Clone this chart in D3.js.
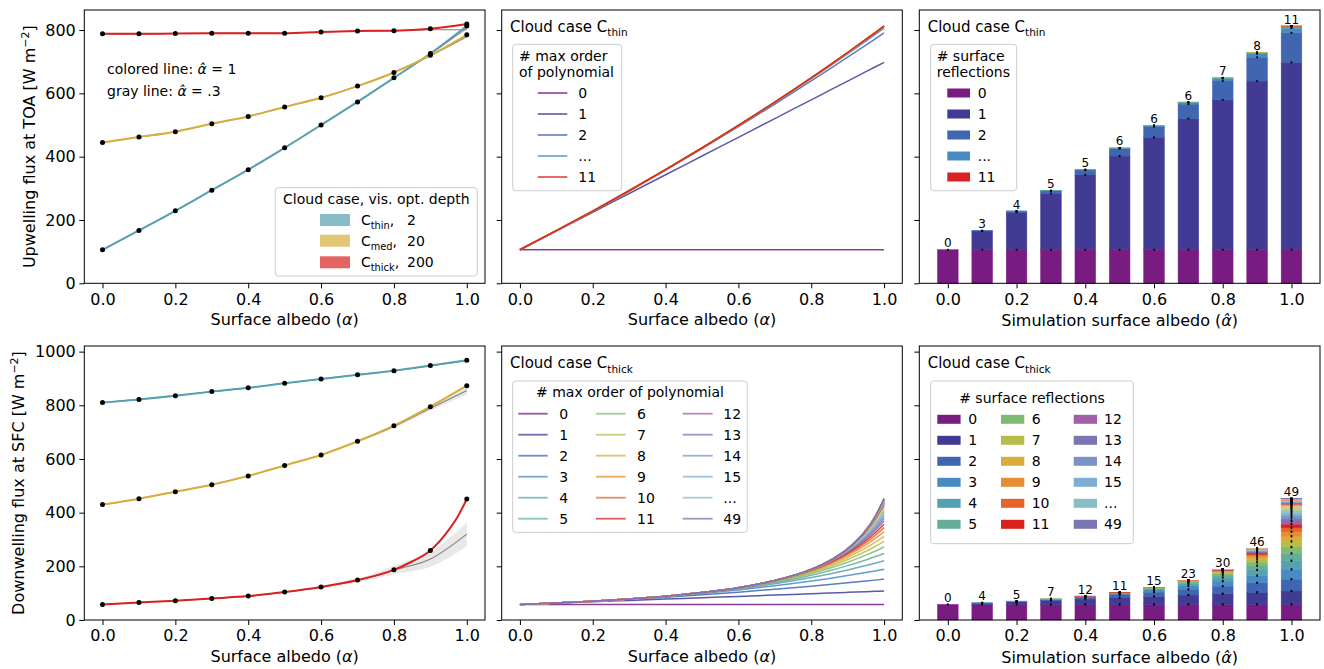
<!DOCTYPE html>
<html><head><meta charset="utf-8">
<script src="https://cdn.jsdelivr.net/npm/d3@7"></script>
<style>body{margin:0;background:#fff} svg{font-family:"DejaVu Sans",sans-serif}</style>
</head><body><svg id="c" width="1324" height="669"></svg>
<script>
// ---------------- DATA ----------------
const albedo = [0, 0.1, 0.2, 0.3, 0.4, 0.5, 0.6, 0.7, 0.8, 0.9, 1.0];
const xTicks = [0, 0.2, 0.4, 0.6, 0.8, 1.0];
const yTicksTop = [0, 200, 400, 600, 800];
const yTicksBottom = [0, 200, 400, 600, 800, 1000];

// Upwelling flux at TOA (colored: alpha_hat = 1, gray: alpha_hat = .3)
const toaThin  = [106, 167, 229, 294, 359, 428, 500, 573, 649, 726, 813];
const toaMed   = [445, 462, 479, 504, 527, 557, 586, 623, 666, 720, 785];
const toaThick = [788, 788, 789, 790, 790, 790, 794, 797, 798, 804, 819];
const toaThinGray  = [106, 167, 229, 294, 359, 428, 500, 573, 649, 724, 806];
const toaMedGray   = [445, 462, 479, 504, 527, 557, 586, 623, 666, 719, 779];
const toaThickGray = [788, 788, 789, 790, 790, 790, 794, 797, 798, 801, 801];

// Downwelling flux at SFC
const sfcThin  = [810, 822, 836, 851, 865, 882, 898, 914, 929, 948, 968];
const sfcMed   = [430, 452, 478, 504, 537, 576, 615, 666, 724, 795, 873];
const sfcThick = [58, 65, 72, 80, 89, 104, 123, 149, 187, 259, 451];
// colored C_thick curve read at a finer albedo spacing near 1
const sfcThickCurveX = [0, 0.1, 0.2, 0.3, 0.4, 0.5, 0.6, 0.7, 0.8, 0.85, 0.9, 0.95, 0.975, 1.0];
const sfcThickCurve  = [58, 65, 72, 80, 89, 104, 123, 149, 187, 218, 259, 335, 385, 451];
const sfcThinGray  = [810, 822, 836, 851, 865, 882, 898, 914, 929, 947, 966];
const sfcMedGray   = [430, 452, 478, 504, 537, 576, 615, 665, 721, 789, 855];
const sfcThickGray = [58, 65, 72, 80, 89, 104, 122, 147, 186, 227, 320];
const sfcMedBandLo   = [430, 452, 478, 504, 537, 575, 613, 661, 715, 781, 838];
const sfcMedBandHi   = [430, 452, 478, 504, 537, 577, 617, 669, 727, 797, 867];
const sfcThickBandLo = [58, 65, 72, 80, 88, 102, 118, 140, 170, 198, 275];
const sfcThickBandHi = [58, 65, 72, 80, 90, 106, 126, 154, 202, 254, 363];

// Contribution of k surface reflections at alpha = 1 (k = 0, 1, 2, ...)
const thinCoef  = [106, 592, 93, 15, 4, 1.5, 0.6, 0.25, 0.1, 0.05, 0.02, 0.01];
const thickCoef = [58, 50, 44, 37, 32, 27, 24, 21, 19, 17, 15, 13,
  11.5, 10.1, 8.9, 7.8, 6.9, 6.1, 5.3, 4.7, 4.1, 3.6, 3.2, 2.8,
  2.5, 2.2, 1.9, 1.7, 1.5, 1.3, 1.15, 1.0, 0.89, 0.78, 0.69, 0.61,
  0.53, 0.47, 0.41, 0.36, 0.32, 0.28, 0.25, 0.22, 0.19, 0.17, 0.15, 0.13,
  0.11, 0.10];
// albedos at which the polynomial lines are evaluated
const polyAlbedo = [0, 0.1, 0.2, 0.3, 0.4, 0.5, 0.6, 0.7, 0.8, 0.85, 0.9, 0.95, 0.975, 1.0];
// Number of surface reflections needed per simulation albedo
const thinMaxOrder  = [0, 3, 4, 5, 5, 6, 6, 6, 7, 8, 11];
const thickMaxOrder = [0, 4, 5, 7, 12, 11, 15, 23, 30, 46, 49];

const tol12 = ["#781C81","#413B93","#4065B1","#488BC2","#55A1B1","#63AD99",
               "#7FB972","#B5BD4C","#D9AD3C","#E68E34","#E6642C","#D92120"];
const caseNames = ["thin", "med", "thick"];
const caseValues = ["2", "20", "200"];

// ---------------- HELPERS ----------------
const svg = d3.select("#c");
const FONT = "DejaVu Sans, sans-serif";
function orderColor(k){ return k < 12 ? tol12[k] : d3.interpolateRgb(tol12[k % 12], "#ffffff")(0.3); }
function lighten(c, t){ return d3.interpolateRgb(c, "#ffffff")(t); }
const caseColor = [tol12[4], tol12[8], tol12[11]];

function cumAt(coef, a){ const out = []; let s = 0; coef.forEach((c, k) => { s += c * Math.pow(a, k); out.push(s); }); return out; }

const P = {
  L: [84.3, 485], M: [501.7, 902.3], R: [919.3, 1320],
  T: [10, 283.3], B: [346, 620]
};
const xL = d3.scaleLinear([-0.05, 1.05], P.L);
const xM = d3.scaleLinear([-0.05, 1.05], P.M);
const xR = d3.scaleLinear([-0.083, 1.083], P.R);
const yT = d3.scaleLinear([0, 863.3], [P.T[1], P.T[0]]);
const yB = d3.scaleLinear([0, 1021], [P.B[1], P.B[0]]);
const CURVE = d3.curveMonotoneX;

function axes(xs, ys, yTicks, showY){
  const g = svg.append("g");
  const bx = g.append("g").attr("transform", `translate(0,${ys.range()[0]})`)
    .call(d3.axisBottom(xs).tickValues(xTicks).tickFormat(d3.format(".1f")).tickSize(5).tickPadding(5));
  bx.select(".domain").remove();
  bx.attr("font-size", 16).attr("font-family", FONT);
  const ly = g.append("g").attr("transform", `translate(${xs.range()[0]},0)`)
    .call(d3.axisLeft(ys).tickValues(yTicks).tickFormat(showY ? d3.format("d") : () => "").tickSize(5).tickPadding(3.5));
  ly.select(".domain").remove();
  ly.attr("font-size", 16).attr("font-family", FONT);
  g.selectAll("text").attr("fill", "#000");
  g.selectAll(".tick line").attr("stroke", "#000");
  svg.append("rect").attr("x", xs.range()[0]).attr("y", ys.range()[1])
    .attr("width", xs.range()[1] - xs.range()[0]).attr("height", ys.range()[0] - ys.range()[1])
    .attr("fill", "none").attr("stroke", "#000").attr("stroke-width", 1);
}

function xLabel(xs, yBase, sim){
  const t = svg.append("text").attr("x", (xs.range()[0] + xs.range()[1]) / 2).attr("y", yBase)
    .attr("text-anchor", "middle").attr("font-size", 16).attr("font-family", FONT);
  t.append("tspan").text(sim ? "Simulation surface albedo (" : "Surface albedo (");
  t.append("tspan").attr("font-style", "italic").text(sim ? "\u03B1\u0302" : "\u03B1");
  t.append("tspan").text(")");
}
function yLabel(x, y, str){
  const t = svg.append("text").attr("transform", `translate(${x},${y}) rotate(-90)`)
    .attr("text-anchor", "middle").attr("font-size", 16).attr("font-family", FONT);
  t.append("tspan").text(str + " [W m");
  t.append("tspan").attr("font-size", 11).attr("dy", -6).text("\u22122");
  t.append("tspan").attr("dy", 6).text("]");
}
function subText(parent, x, y, base, sub, after, size){
  const t = parent.append("text").attr("x", x).attr("y", y).attr("font-size", size).attr("font-family", FONT);
  t.append("tspan").text(base);
  t.append("tspan").attr("font-size", size * 0.7).attr("dy", size * 0.28).text(sub);
  t.append("tspan").attr("dy", -size * 0.28).text(after || "");
  return t;
}
function legendBox(x, y, w, h){
  svg.append("rect").attr("x", x).attr("y", y).attr("width", w).attr("height", h).attr("rx", 3)
    .attr("fill", "#fff").attr("fill-opacity", 0.8).attr("stroke", "#cccccc").attr("stroke-width", 1);
}

const lineGen = (xs, ys) => d3.line().x(d => xs(d[0])).y(d => ys(d[1])).curve(CURVE);
const pairs = (xsArr, vals) => xsArr.map((a, i) => [a, vals[i]]);

// ---------------- LEFT PANELS ----------------
function leftPanel(xs, ys, curves, dots, gray, bands){
  const g = svg.append("g");
  bands.forEach(b => {
    const area = d3.area().x((d, i) => xs(albedo[i])).y0(d => ys(d[0])).y1(d => ys(d[1])).curve(CURVE);
    g.append("path").datum(b[0].map((v, i) => [v, b[1][i]])).attr("d", area)
      .attr("fill", "#e0e0e0").attr("fill-opacity", 0.75);
  });
  gray.forEach(s => g.append("path").datum(pairs(albedo, s)).attr("d", lineGen(xs, ys))
    .attr("fill", "none").attr("stroke", "#808080").attr("stroke-width", 1.1));
  curves.forEach((c, j) => g.append("path").datum(c).attr("d", lineGen(xs, ys))
    .attr("fill", "none").attr("stroke", caseColor[j]).attr("stroke-width", 2));
  dots.forEach(s => g.selectAll(null).data(pairs(albedo, s)).join("circle")
    .attr("cx", d => xs(d[0])).attr("cy", d => ys(d[1])).attr("r", 2.5).attr("fill", "#000"));
}
leftPanel(xL, yT, [pairs(albedo, toaThin), pairs(albedo, toaMed), pairs(albedo, toaThick)],
  [toaThin, toaMed, toaThick], [toaThinGray, toaMedGray, toaThickGray], []);
leftPanel(xL, yB, [pairs(albedo, sfcThin), pairs(albedo, sfcMed), pairs(sfcThickCurveX, sfcThickCurve)],
  [sfcThin, sfcMed, sfcThick], [sfcThinGray, sfcMedGray, sfcThickGray],
  [[sfcMedBandLo, sfcMedBandHi], [sfcThickBandLo, sfcThickBandHi]]);

// annotation
[["colored line: ", " = 1", 74], ["gray line: ", " = .3", 95.5]].forEach(r => {
  const t = svg.append("text").attr("x", 107).attr("y", r[2]).attr("font-size", 14).attr("font-family", FONT);
  t.append("tspan").text(r[0]);
  t.append("tspan").attr("font-style", "italic").text("\u03B1\u0302");
  t.append("tspan").text(r[1]);
});

// left legend
legendBox(275.3, 187.7, 202, 88.3);
svg.append("text").attr("x", 376.3).attr("y", 203.5).attr("text-anchor", "middle")
  .attr("font-size", 14).attr("font-family", FONT).text("Cloud case, vis. opt. depth");
[220, 240.7, 262.3].forEach((cy, j) => {
  svg.append("rect").attr("x", 320).attr("y", cy - 6).attr("width", 30).attr("height", 12)
    .attr("fill", lighten(caseColor[j], 0.3));
  subText(svg, 361, cy + 5, "C", caseNames[j], ",", 14);
  svg.append("text").attr("x", 407).attr("y", cy + 5).attr("font-size", 14).attr("font-family", FONT).text(caseValues[j]);
});

// ---------------- MIDDLE PANELS (polynomial orders) ----------------
function middlePanel(ys, coef){
  const g = svg.append("g");
  const cums = polyAlbedo.map(a => cumAt(coef, a));
  coef.forEach((c, k) => {
    g.append("path").datum(polyAlbedo.map((a, i) => [a, cums[i][k]])).attr("d", lineGen(xM, ys))
      .attr("fill", "none").attr("stroke", orderColor(k)).attr("stroke-opacity", 0.85).attr("stroke-width", 1.5);
  });
}
middlePanel(yT, thinCoef);
middlePanel(yB, thickCoef);

// ---------------- RIGHT PANELS (stacked bars) ----------------
function rightPanel(ys, coef, maxOrder, markH){
  const g = svg.append("g");
  const marks = svg.append("g");
  albedo.forEach((a, i) => {
    const cum = cumAt(coef, a);
    const x0 = xR(a - 0.03), w = xR(a + 0.03) - xR(a - 0.03);
    for (let k = 0; k <= maxOrder[i]; k++){
      const lo = k === 0 ? 0 : cum[k - 1];
      const col = orderColor(k);
      g.append("rect").attr("x", x0).attr("width", w)
        .attr("y", ys(cum[k])).attr("height", Math.max(0, ys(lo) - ys(cum[k])))
        .attr("fill", col).attr("stroke", col).attr("stroke-width", 0.5);
      marks.append("rect").attr("x", xR(a) - 0.9).attr("width", 1.8)
        .attr("y", ys(cum[k]) - markH / 2).attr("height", markH).attr("fill", "#000");
    }
    svg.append("text").attr("x", xR(a)).attr("y", ys(cum[maxOrder[i]]) - 2.5).attr("text-anchor", "middle")
      .attr("font-size", 12).attr("font-family", FONT).text(maxOrder[i]);
  });
}
rightPanel(yT, thinCoef, thinMaxOrder, 1.8);
rightPanel(yB, thickCoef, thickMaxOrder, 2.2);

// ---------------- AXES ----------------
axes(xL, yT, yTicksTop, true);
axes(xM, yT, yTicksTop, false);
axes(xR, yT, yTicksTop, false);
axes(xL, yB, yTicksBottom, true);
axes(xM, yB, yTicksBottom, false);
axes(xR, yB, yTicksBottom, false);

xLabel(xL, 324.8, false); xLabel(xM, 324.8, false); xLabel(xR, 326, true);
xLabel(xL, 661.5, false); xLabel(xM, 661.5, false); xLabel(xR, 662.5, true);
yLabel(34.5, 146.7, "Upwelling flux at TOA");
yLabel(24.4, 483, "Downwelling flux at SFC");

// panel titles
subText(svg, 510, 31.7, "Cloud case C", "thin", "", 15);
subText(svg, 927.7, 31.7, "Cloud case C", "thin", "", 15);
subText(svg, 510, 368.3, "Cloud case C", "thick", "", 15);
subText(svg, 927.7, 368.3, "Cloud case C", "thick", "", 15);

// ---------------- ORDER LEGENDS ----------------
const topLegendLabels = ["0", "1", "2", "...", "11"];
const topLegendKeys = [0, 1, 2, 3, 11];
const rowsTop = [93, 114, 135, 156, 177];

// top-middle
legendBox(512.7, 44.3, 109, 146.4);
[["# max order", 60.6], ["of polynomial", 76.5]].forEach(r => svg.append("text").attr("x", 519).attr("y", r[1])
  .attr("font-size", 14).attr("font-family", FONT).text(r[0]));
topLegendKeys.forEach((k, i) => {
  svg.append("line").attr("x1", 537.7).attr("x2", 567.3).attr("y1", rowsTop[i]).attr("y2", rowsTop[i])
    .attr("stroke", orderColor(k)).attr("stroke-opacity", 0.75).attr("stroke-width", 1.8);
  svg.append("text").attr("x", 578.3).attr("y", rowsTop[i] + 5).attr("font-size", 14).attr("font-family", FONT).text(topLegendLabels[i]);
});
// top-right
legendBox(930.7, 44.3, 86, 146.4);
[["# surface", 60.6], ["reflections", 76.5]].forEach(r => svg.append("text").attr("x", 936.7).attr("y", r[1])
  .attr("font-size", 14).attr("font-family", FONT).text(r[0]));
topLegendKeys.forEach((k, i) => {
  svg.append("rect").attr("x", 947.3).attr("y", rowsTop[i] - 4.5).attr("width", 22.7).attr("height", 9)
    .attr("fill", orderColor(k));
  svg.append("text").attr("x", 977.7).attr("y", rowsTop[i] + 5).attr("font-size", 14).attr("font-family", FONT).text(topLegendLabels[i]);
});

const botLegendLabels = ["0","1","2","3","4","5","6","7","8","9","10","11","12","13","14","15","...","49"];
const botLegendKeys = [0,1,2,3,4,5,6,7,8,9,10,11,12,13,14,15,16,49];

// bottom-middle
legendBox(512.7, 381, 234.6, 151.3);
svg.append("text").attr("x", 630).attr("y", 396.6).attr("text-anchor", "middle")
  .attr("font-size", 14).attr("font-family", FONT).text("# max order of polynomial");
const bmH = [[518.3, 547.7], [596, 625.7], [682.7, 712.7]], bmL = [559.3, 637, 723.3];
botLegendKeys.forEach((k, i) => {
  const col = Math.floor(i / 6), row = i % 6, cy = 413.7 + 21 * row;
  svg.append("line").attr("x1", bmH[col][0]).attr("x2", bmH[col][1]).attr("y1", cy).attr("y2", cy)
    .attr("stroke", orderColor(k)).attr("stroke-opacity", 0.75).attr("stroke-width", 1.8);
  svg.append("text").attr("x", bmL[col]).attr("y", cy + 5).attr("font-size", 14).attr("font-family", FONT).text(botLegendLabels[i]);
});
// bottom-right
legendBox(930.7, 381, 202.6, 162.7);
svg.append("text").attr("x", 1032).attr("y", 403.3).attr("text-anchor", "middle")
  .attr("font-size", 14).attr("font-family", FONT).text("# surface reflections");
const brH = [937.3, 1001, 1073.7], brL = [968.3, 1031.7, 1104];
botLegendKeys.forEach((k, i) => {
  const col = Math.floor(i / 6), row = i % 6, cy = 419.3 + 21 * row;
  svg.append("rect").attr("x", brH[col]).attr("y", cy - 4.5).attr("width", 23.3).attr("height", 9)
    .attr("fill", orderColor(k));
  svg.append("text").attr("x", brL[col]).attr("y", cy + 5).attr("font-size", 14).attr("font-family", FONT).text(botLegendLabels[i]);
});
</script></body></html>
